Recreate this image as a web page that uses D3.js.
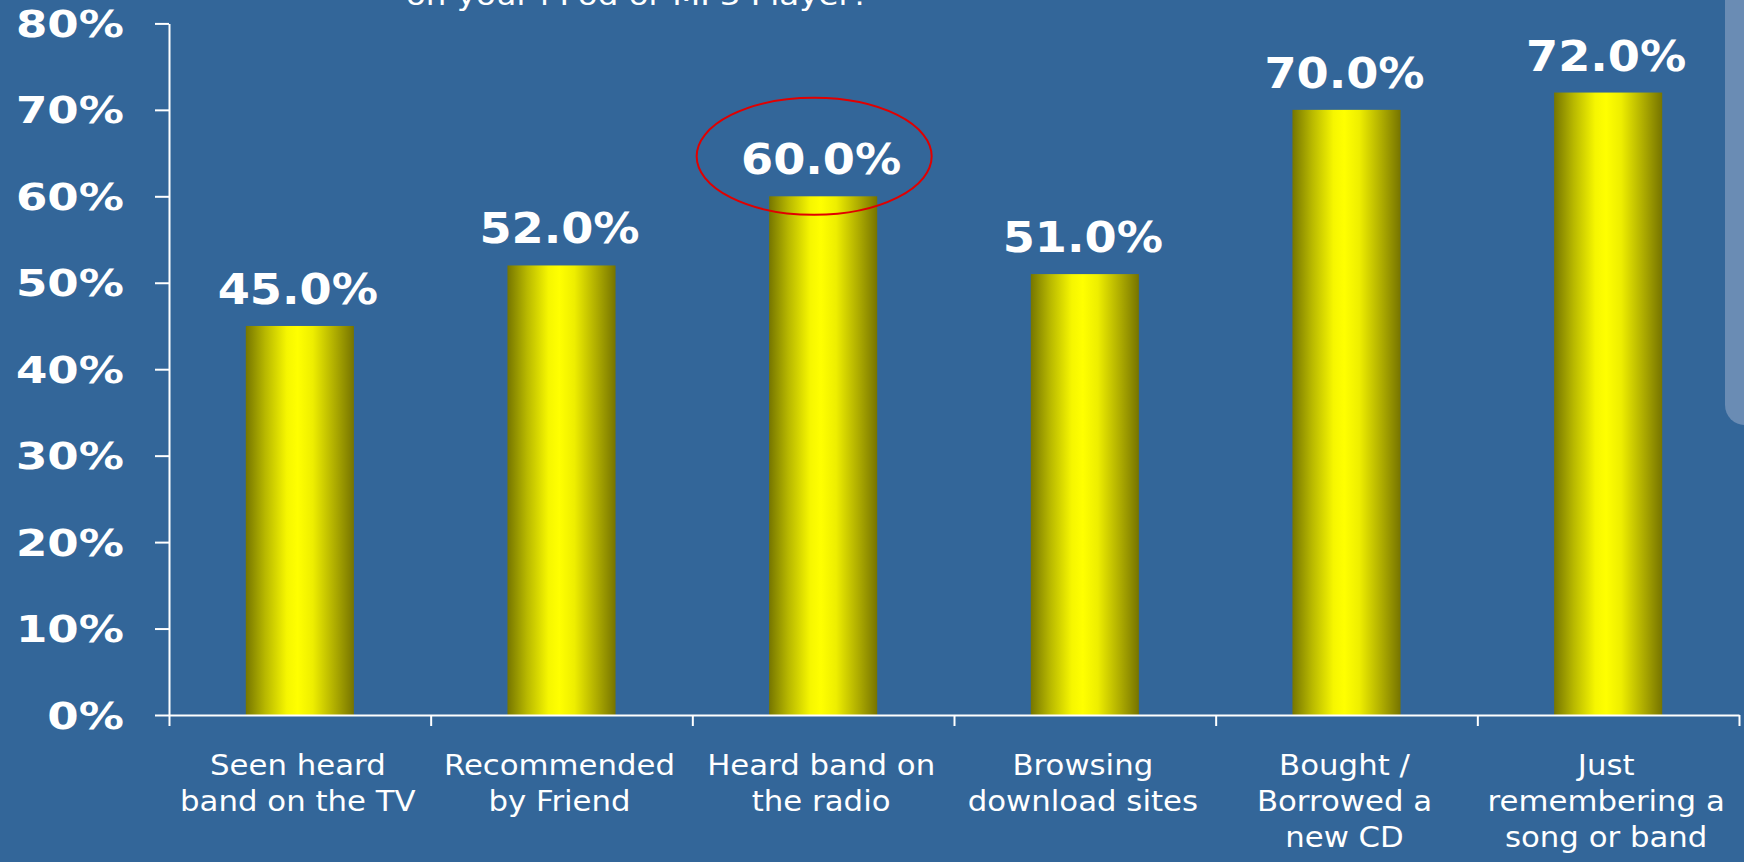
<!DOCTYPE html>
<html>
<head>
<meta charset="utf-8">
<script src="https://cdn.jsdelivr.net/npm/d3@7"></script>
<style>
  html, body { margin: 0; padding: 0; background: #336699; overflow: hidden; }
  svg { display: block; }
</style>
</head>
<body>
<svg id="chart" width="1744" height="862"></svg>
<script>
// Survey answers: how respondents came to put a song on their player
const categories = [
  "Seen heard band on the TV",
  "Recommended by Friend",
  "Heard band on the radio",
  "Browsing download sites",
  "Bought / Borrowed a new CD",
  "Just remembering a song or band"
];
const categoryLines = [
  ["Seen heard", "band on the TV"],
  ["Recommended", "by Friend"],
  ["Heard band on", "the radio"],
  ["Browsing", "download sites"],
  ["Bought /", "Borrowed a", "new CD"],
  ["Just", "remembering a", "song or band"]
];
const values = [45.0, 52.0, 60.0, 51.0, 70.0, 72.0];
const yTicks = [0, 10, 20, 30, 40, 50, 60, 70, 80];
const highlighted = "Heard band on the radio";
const subtitle = "on your i Pod or MP3 Player?";

const plotLeft = 169, plotRight = 1739, plotTop = 23.4, plotBottom = 715;

const svg = d3.select("#chart");

// side panel peeking in at the right edge
svg.append("rect")
  .attr("x", 1725).attr("y", -30)
  .attr("width", 60).attr("height", 455)
  .attr("rx", 20)
  .attr("fill", "#6a8cb4");

// bar fill: olive edges, bright yellow centre
const grad = svg.append("defs").append("linearGradient")
  .attr("id", "barGrad").attr("x1", "0%").attr("x2", "100%").attr("y1", "0%").attr("y2", "0%");
[[0, "#767600"], [0.18, "#b8b800"], [0.38, "#f6f600"], [0.48, "#ffff00"], [0.62, "#eeee00"], [0.82, "#b0ae00"], [1, "#767400"]]
  .forEach(([o, c]) => grad.append("stop").attr("offset", o).attr("stop-color", c));

const x = d3.scaleBand()
  .domain(categories)
  .range([plotLeft, plotRight])
  .paddingInner(0.587)
  .paddingOuter(0.2935);

const y = d3.scaleLinear().domain([0, 80]).range([plotBottom, plotTop]);

// stretched text helper (the slide fonts render wide)
function stretchedText(g, tx, ty, sx, txt, anchor, size, weight) {
  return g.append("text")
    .attr("transform", `translate(${tx},${ty}) scale(${sx},1)`)
    .attr("text-anchor", anchor)
    .attr("font-family", "DejaVu Sans, Verdana, sans-serif")
    .attr("font-size", size)
    .attr("font-weight", weight)
    .attr("fill", "#ffffff")
    .text(txt);
}

// subtitle line, cropped at the top edge
stretchedText(svg, 406, 5, 1.16, subtitle, "start", 28, "normal");

// bars
svg.append("g").selectAll("rect")
  .data(values)
  .join("rect")
  .attr("x", (d, i) => x(categories[i]))
  .attr("y", d => y(d))
  .attr("width", x.bandwidth())
  .attr("height", d => y(0) - y(d))
  .attr("fill", "url(#barGrad)");

// y axis
const yAxis = svg.append("g")
  .attr("transform", `translate(${plotLeft},0)`)
  .call(d3.axisLeft(y).tickValues(yTicks).tickSize(14).tickSizeOuter(0).tickFormat(""));
yAxis.selectAll("path, line").attr("stroke", "#ffffff").attr("stroke-width", 2);

// x axis with ticks on category boundaries
const xEdges = d3.scaleLinear().domain([0, categories.length]).range([plotLeft, plotRight]);
const xAxis = svg.append("g")
  .attr("transform", `translate(0,${plotBottom})`)
  .call(d3.axisBottom(xEdges).tickValues(d3.range(categories.length + 1)).tickSize(11).tickSizeOuter(0).tickFormat(""));
xAxis.selectAll("path, line").attr("stroke", "#ffffff").attr("stroke-width", 2);

// y tick labels
const yLab = svg.append("g");
yTicks.forEach(t => {
  stretchedText(yLab, 124, y(t) + 13.5, 1.22, t + "%", "end", 37, "bold");
});

// value labels
const vLab = svg.append("g");
values.forEach((v, i) => {
  const cx = x(categories[i]) + x.bandwidth() / 2;
  stretchedText(vLab, cx - 2, y(v) - 22, 1.1, v.toFixed(1) + "%", "middle", 42, "bold");
});

// category labels
const cLab = svg.append("g");
categoryLines.forEach((lines, i) => {
  const cx = x(categories[i]) + x.bandwidth() / 2;
  lines.forEach((ln, j) => {
    stretchedText(cLab, cx - 2, 775 + j * 36, 1.12, ln, "middle", 27.5, "normal");
  });
});

// highlight ring around the radio answer
const hi = categories.indexOf(highlighted);
svg.append("ellipse")
  .attr("cx", x(highlighted) + x.bandwidth() / 2 - 9)
  .attr("cy", y(values[hi]) - 40)
  .attr("rx", 117.5)
  .attr("ry", 58.5)
  .attr("fill", "none")
  .attr("stroke", "#e00000")
  .attr("stroke-width", 2);
</script>
</body>
</html>
